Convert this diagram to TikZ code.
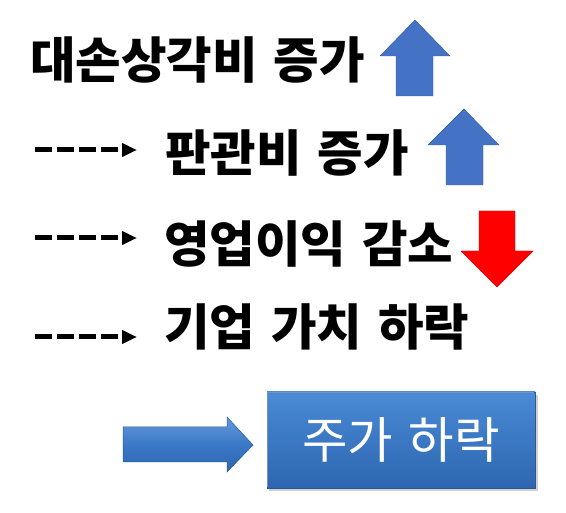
\documentclass[tikz,border=0pt]{standalone}
\usepackage{fontspec}
\newfontfamily\kr{Noto Sans CJK KR}
\usetikzlibrary{arrows.meta,shadings}
\definecolor{upblue}{HTML}{4472C4}
\definecolor{boxtop}{HTML}{4A8AD6}
\definecolor{boxmid}{HTML}{3B78C6}
\definecolor{boxbot}{HTML}{2D66B0}
\definecolor{boxedge}{HTML}{2A5A94}
\newcommand{\wsp}{\hspace{0.32em}}
\tikzset{
  x=1pt,y=-1pt,
  lbl/.style={anchor=west,inner sep=0pt,font=\kr\bfseries\fontsize{49.5}{52}\selectfont,text=black},
  dasharrow/.style={line width=5pt,dash pattern=on 17pt off 5pt,-{Triangle[length=15pt,width=13pt]}},
  uparrow/.style={fill=upblue,draw=upblue!80!black,line width=0.4pt},
  downarrow/.style={fill=red,draw=red!85!black,line width=0.4pt},
}
\begin{document}
\begin{tikzpicture}
\useasboundingbox (0,0) rectangle (566,513);
% labels
\node[lbl] (t1) at (30,60) {대손상각비\wsp 증가};
\node[lbl] (t2) at (165,153) {판관비\wsp 증가};
\node[lbl] (t3) at (164,244) {영업이익\wsp 감소};
\node[lbl] (t4) at (164,327) {기업\wsp 가치\wsp 하락};
% dashed arrows
\coordinate (d2s) at (35,150); \coordinate (d2e) at (137,150);
\coordinate (d3s) at (35,238); \coordinate (d3e) at (137,238);
\coordinate (d4s) at (35,337); \coordinate (d4e) at (137,337);
\draw[dasharrow] (d2s) -- (d2e);
\draw[dasharrow] (d3s) -- (d3e);
\draw[dasharrow] (d4s) -- (d4e);
% up arrows
\draw[uparrow] (415,20) -- (450,56) -- (433,56) -- (433,96) -- (396,96) -- (396,56) -- (380,56) -- cycle;
\draw[uparrow] (464,109) -- (499,145) -- (483,145) -- (483,185) -- (446,185) -- (446,145) -- (428,145) -- cycle;
% down arrow
\draw[downarrow] (479,211) -- (515,211) -- (515,251) -- (533,251) -- (497,287) -- (461,251) -- (479,251) -- cycle;
% bottom arrow
\shade[top color=boxtop!85!white,bottom color=boxbot,middle color=boxmid,draw=boxedge,line width=0.5pt]
  (123,427) -- (227,427) -- (227,417) -- (253,445) -- (227,472) -- (227,462) -- (123,462) -- cycle;
% box shadow
\fill[black,opacity=0.18] (269,395) rectangle (538,491);
% box
\node[draw=boxedge,line width=0.6pt,top color=boxtop,middle color=boxmid,bottom color=boxbot,minimum width=268pt,minimum height=96pt,inner sep=0pt,
  font=\kr\fontsize{49.5}{52}\selectfont,text=white] (box) at (401,440) {주가\wsp 하락};
\draw[white,opacity=0.35,line width=1.2pt] ([xshift=1pt,yshift=1pt]box.south west) -- ([xshift=1pt,yshift=-1pt]box.north west) -- ([xshift=-1pt,yshift=-1pt]box.north east);
\end{tikzpicture}
\end{document}
